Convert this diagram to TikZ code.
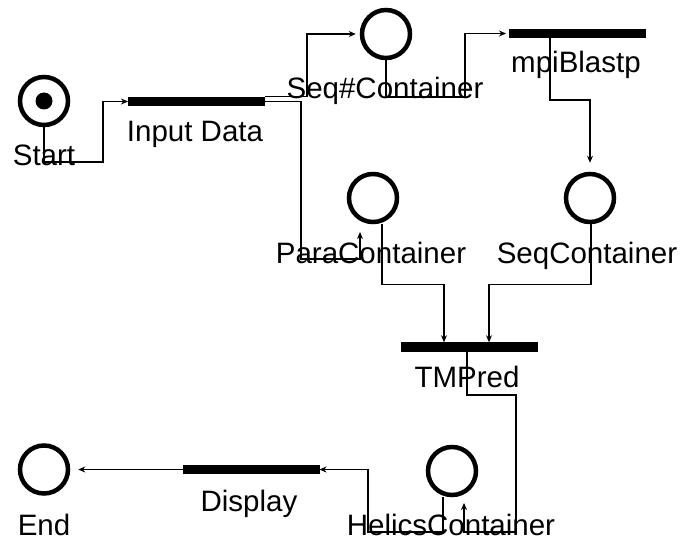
\documentclass[tikz,border=0pt]{standalone}
\usepackage{fontspec}
\setmainfont{Liberation Sans}
\usetikzlibrary{arrows.meta}
\begin{document}
\begin{tikzpicture}[x=1pt,y=-1pt,
  place/.style={circle,draw,line width=4.5pt,minimum size=48pt,inner sep=0pt},
  trans/.style={rectangle,fill=black,minimum width=137pt,minimum height=9.5pt,inner sep=0pt,outer sep=0pt},
  lbl/.style={anchor=base,inner sep=0pt,font=\fontsize{29.5}{34}\selectfont},
  conn/.style={line width=1.1pt},
  arr/.style={conn,-{Stealth[length=7pt,width=6pt]}}]
\fill[white] (0,0) rectangle (682,540);
\useasboundingbox (0,0) rectangle (682,540);

% places
\node[place] (start) at (44,101) {};
\node[circle,fill=black,minimum size=17pt,inner sep=0pt] (token) at (start.center) {};
\node[place] (seqhash) at (386,34) {};
\node[place] (para) at (373,198) {};
\node[place] (seqc) at (590,198) {};
\node[place] (helics) at (452,471) {};
\node[place] (end) at (44,469.5) {};

% transitions
\node[trans] (indata) at (196.5,101.5) {};
\node[trans] (mpib) at (577.5,33.5) {};
\node[trans] (tmp) at (469,347) {};
\node[trans] (display) at (251,469.5) {};

% labels
\node[lbl] (lstart) at (44,166) {Start};
\node[lbl] (lindata) at (195,142) {Input Data};
\node[lbl] (lseqhash) at (385,99) {Seq\#Container};
\node[lbl] (lmpib) at (576,73) {mpiBlastp};
\node[lbl] (lpara) at (371,263) {ParaContainer};
\node[lbl] (lseqc) at (587,263) {SeqContainer};
\node[lbl] (ltmp) at (467,387) {TMPred};
\node[lbl] (lend) at (44,535) {End};
\node[lbl] (ldisplay) at (249,511) {Display};
\node[lbl] (lhelics) at (451,535) {HelicsContainer};

% free ends
\coordinate (paratip) at (360,232);
\coordinate (helicstip) at (464,503);

% connectors
\draw[arr] (start.south) |- (103,162) |- (indata.west);
\draw[arr,shorten >=4pt] (indata.north east) -- ++(42,0) |- (seqhash.west);
\draw[arr] (indata.east) -| (301,259) -| (paratip);
\draw[arr,shorten >=3pt] (seqhash.south) |- (465,97) |- (mpib.west);
\draw[arr,shorten >=9pt] ([xshift=-27.5pt]mpib.south) |- (590,100) -- (seqc.north);
\draw[arr] ([xshift=9pt]para.south) -- ++(0,60) -| ([xshift=-25pt]tmp.north);
\draw[arr] ([xshift=1pt]seqc.south) -- ++(0,60) -| ([xshift=20pt]tmp.north);
\draw[arr] ([xshift=-2pt]tmp.south) |- (516,395) |- (464,532) -- (helicstip);
\draw[arr] ([xshift=-9pt]helics.south) |- (368,532) |- (display.east);
\draw[arr,shorten >=8pt] (display.west) -- (end.east);
\end{tikzpicture}
\end{document}
